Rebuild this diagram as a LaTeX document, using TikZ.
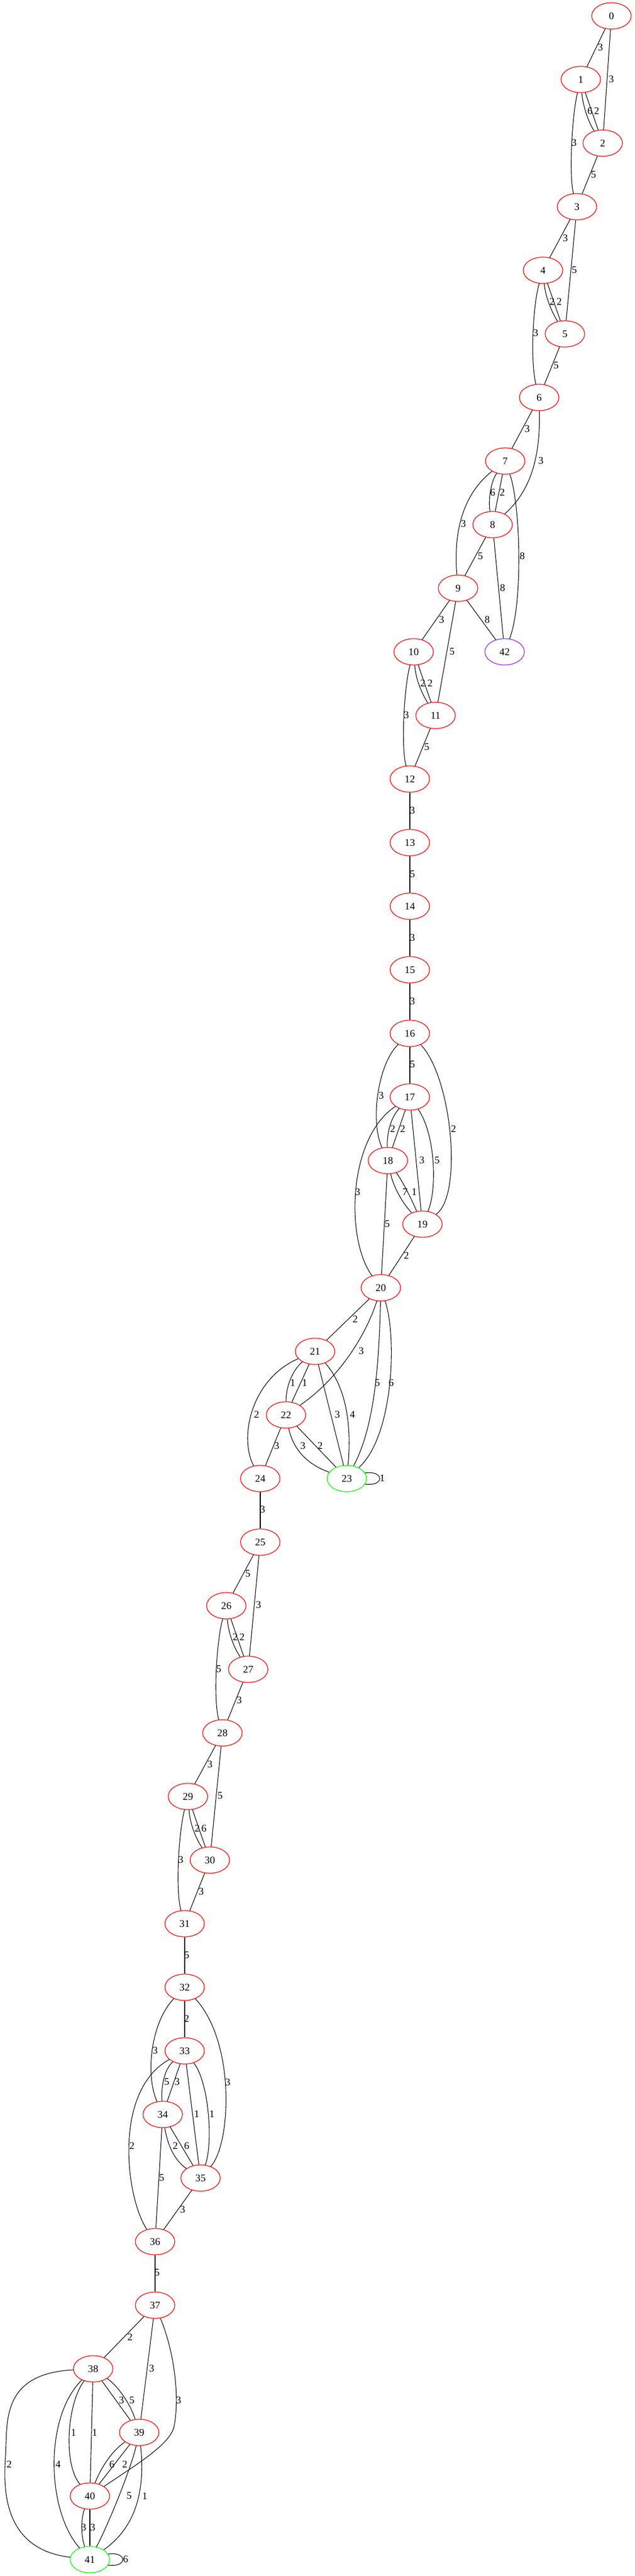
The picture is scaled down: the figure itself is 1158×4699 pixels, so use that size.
\documentclass[tikz,border=0pt]{standalone}
\usepackage{fontspec}
\setmainfont{Liberation Serif}
\usetikzlibrary{shapes.geometric}
\definecolor{gvgreen}{HTML}{00FF00}
\definecolor{gvpurple}{HTML}{A020F0}
\begin{document}
\begin{tikzpicture}[x=0.75pt,y=-0.75pt,
  vtx/.style={ellipse, draw=red, line width=0.9pt, minimum width=54pt, minimum height=36pt, inner sep=0pt, font=\fontsize{14}{16}\selectfont},
  lnk/.style={draw=black, line width=0.8pt},
  lbl/.style={inner sep=0pt, font=\fontsize{14}{16}\selectfont}]
\useasboundingbox (0,0) rectangle (1158,4699);
% nodes
\node[vtx] (n0) at (1116,29) {0};
\node[vtx] (n1) at (1060,145) {1};
\node[vtx] (n2) at (1100,261) {2};
\node[vtx] (n3) at (1053,377) {3};
\node[vtx] (n4) at (991,493) {4};
\node[vtx] (n5) at (1031,609) {5};
\node[vtx] (n6) at (984,725) {6};
\node[vtx] (n7) at (922,841) {7};
\node[vtx] (n8) at (899,957) {8};
\node[vtx] (n9) at (836,1073) {9};
\node[vtx] (n10) at (755,1189) {10};
\node[vtx, draw=gvpurple] (n42) at (921,1189) {42};
\node[vtx] (n11) at (795,1305) {11};
\node[vtx] (n12) at (748,1421) {12};
\node[vtx] (n13) at (748,1537) {13};
\node[vtx] (n14) at (748,1653) {14};
\node[vtx] (n15) at (748,1769) {15};
\node[vtx] (n16) at (748,1885) {16};
\node[vtx] (n17) at (748,2001) {17};
\node[vtx] (n18) at (708,2117) {18};
\node[vtx] (n19) at (771,2233) {19};
\node[vtx] (n20) at (695,2349) {20};
\node[vtx] (n21) at (575,2465) {21};
\node[vtx] (n22) at (522,2581) {22};
\node[vtx, draw=gvgreen] (n23) at (633,2697) {23};
\node[vtx] (n24) at (475,2697) {24};
\node[vtx] (n25) at (475,2813) {25};
\node[vtx] (n26) at (413,2929) {26};
\node[vtx] (n27) at (453,3045) {27};
\node[vtx] (n28) at (406,3161) {28};
\node[vtx] (n29) at (343,3277) {29};
\node[vtx] (n30) at (383,3393) {30};
\node[vtx] (n31) at (337,3509) {31};
\node[vtx] (n32) at (337,3625) {32};
\node[vtx] (n33) at (337,3741) {33};
\node[vtx] (n34) at (297,3857) {34};
\node[vtx] (n35) at (366,3973) {35};
\node[vtx] (n36) at (283,4089) {36};
\node[vtx] (n37) at (283,4205) {37};
\node[vtx] (n38) at (170,4321) {38};
\node[vtx] (n39) at (254,4437) {39};
\node[vtx] (n40) at (164,4553) {40};
\node[vtx, draw=gvgreen] (n41) at (164,4669) {41};
\coordinate (k86) at (318,4425);
\coordinate (k91) at (10,4480);
% edges
\draw[lnk] (n0) -- (n1) node[lbl] (w1) at (1095.7,86) {3};
\draw[lnk] (n0) -- (n2) node[lbl] (w2) at (1115.7,144.3) {3};
\draw[lnk] (n1) .. controls (1064,195) and (1075,225) .. (n2) node[lbl] (w3) at (1076.7,202.3) {6};
\draw[lnk] (n1) -- (n2) node[lbl] (w4) at (1089,202.3) {2};
\draw[lnk] (n1) .. controls (1044,210) and (1038,320) .. (n3) node[lbl] (w5) at (1047.7,260) {3};
\draw[lnk] (n2) -- (n3) node[lbl] (w6) at (1083.3,318.3) {5};
\draw[lnk] (n3) -- (n4) node[lbl] (w7) at (1031.7,434.3) {3};
\draw[lnk] (n3) -- (n5) node[lbl] (w8) at (1048.3,492.3) {5};
\draw[lnk] (n4) .. controls (996,545) and (1008,570) .. (n5) node[lbl] (w9) at (1007.7,550) {2};
\draw[lnk] (n4) -- (n5) node[lbl] (w10) at (1020.7,550) {2};
\draw[lnk] (n4) .. controls (972,560) and (968,660) .. (n6) node[lbl] (w11) at (977.7,607.7) {3};
\draw[lnk] (n5) -- (n6) node[lbl] (w12) at (1015,666) {5};
\draw[lnk] (n6) -- (n7) node[lbl] (w13) at (962.3,782.3) {3};
\draw[lnk] (n6) .. controls (986,820) and (975,890) .. (n8) node[lbl] (w14) at (987.3,840) {3};
\draw[lnk] (n7) .. controls (840,905) and (828,980) .. (n9) node[lbl] (w15) at (845.7,955.7) {3};
\draw[lnk] (n7) .. controls (895,880) and (891,915) .. (n8) node[lbl] (w16) at (899.3,898.3) {6};
\draw[lnk] (n7) -- (n8) node[lbl] (w17) at (916.7,898.3) {2};
\draw[lnk] (n7) .. controls (950,920) and (955,1100) .. (n42) node[lbl] (w18) at (953.3,1014) {8};
\draw[lnk] (n8) -- (n9) node[lbl] (w19) at (876.7,1014) {5};
\draw[lnk] (n8) -- (n42) node[lbl] (w20) at (917.3,1072.3) {8};
\draw[lnk] (n9) -- (n42) node[lbl] (w21) at (889.3,1130) {8};
\draw[lnk] (n9) -- (n10) node[lbl] (w22) at (806,1130) {3};
\draw[lnk] (n9) -- (n11) node[lbl] (w23) at (825,1188.3) {5};
\draw[lnk] (n10) .. controls (759,1240) and (770,1265) .. (n11) node[lbl] (w24) at (771.7,1246) {2};
\draw[lnk] (n10) -- (n11) node[lbl] (w25) at (785,1246) {2};
\draw[lnk] (n10) .. controls (737,1255) and (732,1365) .. (n12) node[lbl] (w26) at (741.7,1304.3) {3};
\draw[lnk] (n11) -- (n12) node[lbl] (w27) at (779,1362.3) {5};
\draw[lnk] (n12) -- (n13) node[lbl] (w28) at (752.7,1478) {3};
\draw[lnk] (n13) -- (n14) node[lbl] (w29) at (752.7,1594) {5};
\draw[lnk] (n14) -- (n15) node[lbl] (w30) at (752.7,1710) {3};
\draw[lnk] (n15) -- (n16) node[lbl] (w31) at (752.7,1826) {3};
\draw[lnk] (n16) -- (n17) node[lbl] (w32) at (752.7,1941.7) {5};
\draw[lnk] (n16) .. controls (690,1940) and (675,2045) .. (n18) node[lbl] (w33) at (695.7,1998.3) {3};
\draw[lnk] (n16) .. controls (825,1965) and (845,2180) .. (n19) node[lbl] (w34) at (827.7,2059) {2};
\draw[lnk] (n17) .. controls (712,2040) and (706,2070) .. (n18) node[lbl] (w35) at (716.7,2059) {2};
\draw[lnk] (n17) -- (n18) node[lbl] (w36) at (735,2059) {2};
\draw[lnk] (n17) -- (n19) node[lbl] (w37) at (770,2116) {3};
\draw[lnk] (n17) .. controls (795,2070) and (798,2170) .. (n19) node[lbl] (w38) at (797.7,2116) {5};
\draw[lnk] (n17) .. controls (635,2075) and (630,2260) .. (n20) node[lbl] (w39) at (652.7,2174) {3};
\draw[lnk] (n18) .. controls (718,2165) and (735,2195) .. (n19) node[lbl] (w40) at (739.3,2174) {7};
\draw[lnk] (n18) .. controls (738,2160) and (752,2190) .. (n19) node[lbl] (w41) at (756,2174) {1};
\draw[lnk] (n18) -- (n20) node[lbl] (w42) at (706.7,2232.3) {5};
\draw[lnk] (n19) -- (n20) node[lbl] (w43) at (741.7,2290.7) {2};
\draw[lnk] (n20) -- (n21) node[lbl] (w44) at (648.3,2406.7) {2};
\draw[lnk] (n20) .. controls (672,2425) and (625,2510) .. (n22) node[lbl] (w45) at (659.3,2464.3) {3};
\draw[lnk] (n20) .. controls (692,2480) and (685,2600) .. (n23) node[lbl] (w46) at (688.7,2522.3) {5};
\draw[lnk] (n20) .. controls (725,2440) and (718,2620) .. (n23) node[lbl] (w47) at (714,2522.3) {6};
\draw[lnk] (n21) .. controls (533,2500) and (522,2530) .. (n22) node[lbl] (w48) at (534.3,2522.3) {1};
\draw[lnk] (n21) -- (n22) node[lbl] (w49) at (556,2522.3) {1};
\draw[lnk] (n21) -- (n23) node[lbl] (w50) at (615.7,2580) {3};
\draw[lnk] (n21) .. controls (632,2530) and (642,2600) .. (n23) node[lbl] (w51) at (643.3,2580) {4};
\draw[lnk] (n21) .. controls (460,2515) and (435,2620) .. (n24) node[lbl] (w52) at (468.3,2580) {2};
\draw[lnk] (n22) .. controls (533,2635) and (552,2668) .. (n23) node[lbl] (w53) at (552.7,2637.7) {3};
\draw[lnk] (n22) -- (n23) node[lbl] (w54) at (584.3,2637.7) {2};
\draw[lnk] (n22) -- (n24) node[lbl] (w55) at (505,2637.7) {3};
\draw[lnk] (n23.17) .. controls (702,2682) and (702,2712) .. (n23.-17) node[lbl] (w56) at (697.7,2696.7) {1};
\draw[lnk] (n24) -- (n25) node[lbl] (w57) at (479.3,2753.3) {3};
\draw[lnk] (n25) -- (n26) node[lbl] (w58) at (452.3,2870) {5};
\draw[lnk] (n25) -- (n27) node[lbl] (w59) at (471.7,2927.7) {3};
\draw[lnk] (n26) .. controls (417,2980) and (427,3005) .. (n27) node[lbl] (w60) at (429.3,2986.7) {2};
\draw[lnk] (n26) -- (n27) node[lbl] (w61) at (441.7,2986.7) {2};
\draw[lnk] (n26) .. controls (395,2995) and (389,3100) .. (n28) node[lbl] (w62) at (399.3,3044.3) {5};
\draw[lnk] (n27) -- (n28) node[lbl] (w63) at (436.7,3101.7) {3};
\draw[lnk] (n28) -- (n29) node[lbl] (w64) at (383.3,3218.3) {3};
\draw[lnk] (n28) -- (n30) node[lbl] (w65) at (401.7,3275.7) {5};
\draw[lnk] (n29) .. controls (347,3328) and (357,3352) .. (n30) node[lbl] (w66) at (360,3335) {2};
\draw[lnk] (n29) -- (n30) node[lbl] (w67) at (372.3,3335) {6};
\draw[lnk] (n29) .. controls (326,3343) and (320,3448) .. (n31) node[lbl] (w68) at (330,3392.3) {3};
\draw[lnk] (n30) -- (n31) node[lbl] (w69) at (367.3,3450) {3};
\draw[lnk] (n31) -- (n32) node[lbl] (w70) at (340.7,3566) {5};
\draw[lnk] (n32) -- (n33) node[lbl] (w71) at (340.7,3682.3) {2};
\draw[lnk] (n32) .. controls (275,3690) and (265,3785) .. (n34) node[lbl] (w72) at (283.3,3740) {3};
\draw[lnk] (n32) .. controls (430,3725) and (422,3910) .. (n35) node[lbl] (w73) at (415.7,3798.3) {3};
\draw[lnk] (n33) .. controls (300,3775) and (294,3805) .. (n34) node[lbl] (w74) at (304.3,3797.7) {5};
\draw[lnk] (n33) -- (n34) node[lbl] (w75) at (323.3,3797.7) {3};
\draw[lnk] (n33) -- (n35) node[lbl] (w76) at (359,3856) {1};
\draw[lnk] (n33) .. controls (382,3800) and (389,3910) .. (n35) node[lbl] (w77) at (386.7,3856) {1};
\draw[lnk] (n33) .. controls (205,3815) and (230,4010) .. (n36) node[lbl] (w78) at (240.7,3914.3) {2};
\draw[lnk] (n34) .. controls (306,3915) and (320,3942) .. (n35) node[lbl] (w79) at (320,3914.3) {2};
\draw[lnk] (n34) -- (n35) node[lbl] (w80) at (340.7,3914.3) {6};
\draw[lnk] (n34) -- (n36) node[lbl] (w81) at (295,3972.3) {5};
\draw[lnk] (n35) -- (n36) node[lbl] (w82) at (333.3,4030) {3};
\draw[lnk] (n36) -- (n37) node[lbl] (w83) at (286.7,4145.7) {5};
\draw[lnk] (n37) -- (n38) node[lbl] (w84) at (237.3,4262.8) {2};
\draw[lnk] (n37) -- (n39) node[lbl] (w85) at (276.7,4320.6) {3};
\draw[lnk] (n37) .. controls (318,4290) and (328,4370) .. (k86) .. controls (312,4458) and (250,4495) .. (n40) node[lbl] (w86) at (326,4378.4) {3};
\draw[lnk] (n38) -- (n39) node[lbl] (w87) at (221.7,4378.4) {3};
\draw[lnk] (n38) .. controls (215,4352) and (238,4385) .. (n39) node[lbl] (w88) at (240.7,4378.4) {5};
\draw[lnk] (n38) .. controls (122,4385) and (115,4495) .. (n40) node[lbl] (w89) at (134.3,4437.2) {1};
\draw[lnk] (n38) -- (n40) node[lbl] (w90) at (172.7,4437.2) {1};
\draw[lnk] (n38) .. controls (0,4330) and (14,4420) .. (k91) .. controls (6,4540) and (5,4650) .. (n41) node[lbl] (w91) at (16.7,4495) {2};
\draw[lnk] (n38) .. controls (80,4410) and (85,4580) .. (n41) node[lbl] (w92) at (106,4495) {4};
\draw[lnk] (n39) .. controls (205,4470) and (185,4500) .. (n40) node[lbl] (w93) at (204.3,4495) {6};
\draw[lnk] (n39) -- (n40) node[lbl] (w94) at (227.7,4495) {2};
\draw[lnk] (n39) .. controls (240,4500) and (200,4600) .. (n41) node[lbl] (w95) at (235.7,4552.8) {5};
\draw[lnk] (n39) .. controls (264,4530) and (255,4605) .. (n41) node[lbl] (w96) at (264.3,4552.8) {1};
\draw[lnk] (n40) .. controls (147,4595) and (148,4628) .. (n41) node[lbl] (w97) at (152.7,4609.9) {3};
\draw[lnk] (n40) -- (n41) node[lbl] (w98) at (169.3,4609.9) {3};
\draw[lnk] (n41.17) .. controls (233,4654) and (233,4684) .. (n41.-17) node[lbl] (w99) at (229.3,4668.4) {6};
\end{tikzpicture}
\end{document}
